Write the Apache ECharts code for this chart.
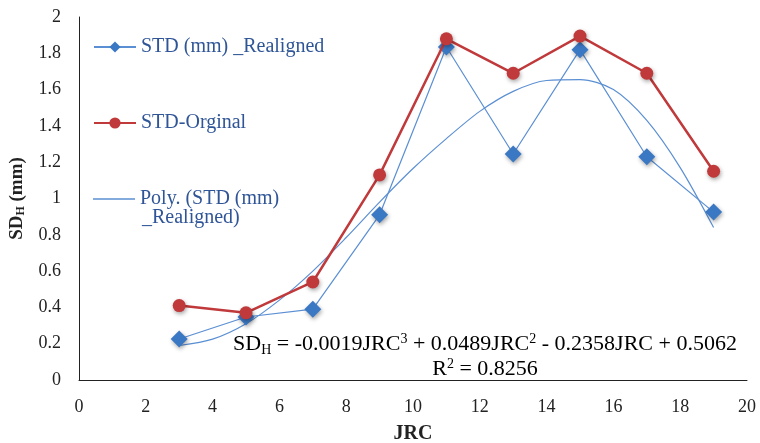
<!DOCTYPE html>
<html>
<head>
<meta charset="utf-8">
<script src="https://cdn.jsdelivr.net/npm/echarts@6/dist/echarts.min.js"></script>
<style>
  html, body { margin: 0; padding: 0; background: #fff; }
  #chart { width: 760px; height: 443px; }
</style>
</head>
<body>
<div id="chart"></div>
<script>
// JRC values sampled
const jrc = [3, 5, 7, 9, 11, 13, 15, 17, 19];
// Standard deviation of heights after realignment (mm)
const stdRealigned = [0.226, 0.347, 0.39, 0.91, 1.835, 1.245, 1.82, 1.23, 0.925];
// Standard deviation of heights, original profiles (mm)
const stdOriginal = [0.41, 0.37, 0.54, 1.13, 1.88, 1.69, 1.895, 1.69, 1.15];
// Polynomial trend line of the realigned series, as plotted
const trendJrc = [3, 4, 5, 6, 7, 8, 9, 10, 11, 12, 13, 14, 15, 16, 17, 18, 19];
const trendStd = [0.19, 0.225, 0.31, 0.44, 0.6, 0.785, 0.98, 1.165, 1.33, 1.48, 1.59, 1.65, 1.655, 1.6, 1.43, 1.17, 0.84];
// Axis ticks
const xTicks = { min: 0, max: 20, step: 2 };
const yTicks = { min: 0, max: 2, step: 0.2 };

const serif = '"Liberation Serif", "Times New Roman", serif';
const legendBlue = '#2F5597';
const red = '#C0393B';
const blue = '#3B78C4';
const lineBlue = '#5B8FD3';

const pair = (xs, ys) => xs.map((x, i) => [x, ys[i]]);
const markShadow = { shadowBlur: 4, shadowColor: 'rgba(0,0,0,0.35)', shadowOffsetX: 1, shadowOffsetY: 2 };

const chart = echarts.init(document.getElementById('chart'), null, { renderer: 'canvas' });

const legendBase = {
  orient: 'vertical',
  left: 88,
  itemWidth: 42,
  itemHeight: 14,
  itemGap: 10,
  textStyle: { fontFamily: serif, fontSize: 20, color: legendBlue },
  selectedMode: false
};

chart.setOption({
  animation: false,
  backgroundColor: '#fff',
  grid: { left: 79, right: 13, top: 17, bottom: 63, containLabel: false, outerBoundsMode: 'none' },
  xAxis: {
    type: 'value',
    min: xTicks.min, max: xTicks.max, interval: xTicks.step,
    name: 'JRC',
    nameLocation: 'middle',
    nameGap: 44,
    nameTextStyle: { fontFamily: serif, fontSize: 20, fontWeight: 'bold', color: '#222' },
    axisLine: { lineStyle: { color: '#222', width: 1 } },
    axisTick: { show: false },
    splitLine: { show: false },
    axisLabel: { fontFamily: serif, fontSize: 18, color: '#222', margin: 18 }
  },
  yAxis: {
    type: 'value',
    min: yTicks.min, max: yTicks.max, interval: yTicks.step,
    name: '{b|SD}{s|H}{b| (mm)}',
    nameLocation: 'middle',
    nameRotate: 90,
    nameGap: 52,
    nameTextStyle: {
      rich: {
        b: { fontFamily: serif, fontSize: 19, fontWeight: 'bold', color: '#222' },
        s: { fontFamily: serif, fontSize: 12, fontWeight: 'bold', color: '#222', verticalAlign: 'bottom', padding: [4, 0, 0, 0] }
      }
    },
    axisLine: { show: true, lineStyle: { color: '#222', width: 1 } },
    axisTick: { show: false },
    splitLine: { show: false },
    axisLabel: { fontFamily: serif, fontSize: 18, color: '#222', margin: 18 }
  },
  legend: [
    Object.assign({}, legendBase, { top: 32, data: ['STD (mm) _Realigned'] }),
    Object.assign({}, legendBase, { top: 108, data: ['STD-Orginal'] }),
    Object.assign({}, legendBase, {
      top: 184,
      data: [{ name: 'Poly. (STD (mm) _Realigned)', icon: 'path://M0,0 L42,0 L42,1.4 L0,1.4 Z' }],
      formatter: () => 'Poly. (STD (mm)'
    })
  ],
  graphic: [
    {
      type: 'text',
      left: 142, top: 208,
      style: { text: '_Realigned)', font: '20px ' + serif, fill: legendBlue }
    },
    {
      type: 'text',
      x: 485, y: 332,
      z: 100,
      style: {
        text: '{n|SD}{sub|H}{n| = -0.0019JRC}{sup|3}{n| + 0.0489JRC}{sup|2}{n| - 0.2358JRC + 0.5062}\n{n|R}{sup|2}{n| = 0.8256}',
        align: 'center',
        verticalAlign: 'top',
        rich: {
          n: { fontFamily: serif, fontSize: 22, color: '#222', lineHeight: 25 },
          sub: { fontFamily: serif, fontSize: 14, color: '#222', lineHeight: 25, verticalAlign: 'bottom', padding: [5, 0, 0, 0] },
          sup: { fontFamily: serif, fontSize: 14, color: '#222', lineHeight: 25, verticalAlign: 'top', padding: [0, 0, 6, 0] }
        }
      }
    }
  ],
  series: [
    {
      name: 'Poly. (STD (mm) _Realigned)',
      type: 'line',
      data: pair(trendJrc, trendStd),
      smooth: 0.3,
      showSymbol: false,
      lineStyle: { color: lineBlue, width: 1.2 },
      itemStyle: { color: lineBlue },
      z: 1
    },
    {
      name: 'STD (mm) _Realigned',
      type: 'line',
      data: pair(jrc, stdRealigned),
      symbol: 'diamond',
      symbolSize: 17,
      lineStyle: { color: lineBlue, width: 1.2 },
      itemStyle: Object.assign({ color: blue }, markShadow),
      z: 2
    },
    {
      name: 'STD-Orginal',
      type: 'line',
      data: pair(jrc, stdOriginal),
      symbol: 'circle',
      symbolSize: 13,
      lineStyle: { color: red, width: 2.5 },
      itemStyle: Object.assign({ color: red }, markShadow),
      z: 3
    }
  ]
});
</script>
</body>
</html>
